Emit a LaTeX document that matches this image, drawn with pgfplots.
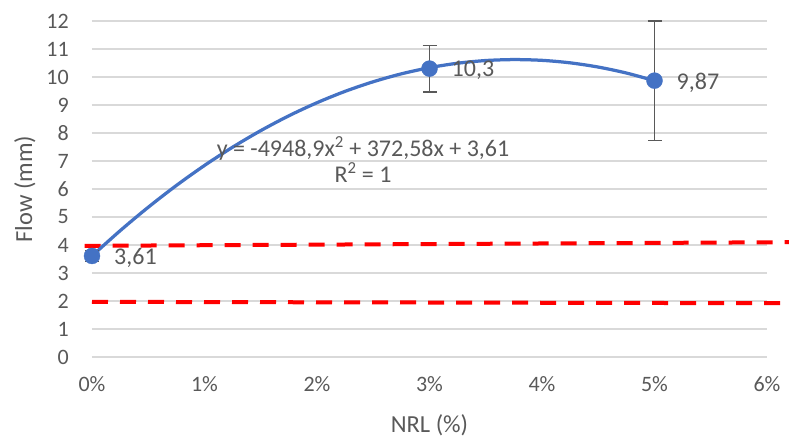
\documentclass[border=0pt]{standalone}
\usepackage{pgfplots}
\pgfplotsset{compat=1.18}
\usepackage{fontspec}
\setmainfont{Carlito}
\definecolor{txt}{HTML}{595959}
\definecolor{grd}{HTML}{D9D9D9}
\definecolor{blu}{HTML}{4472C4}
\definecolor{ebar}{HTML}{595959}
\begin{document}
\begin{tikzpicture}
\path[use as bounding box] (-92pt,-80pt) rectangle (697pt,357pt);
\begin{axis}[
  at={(0,0)}, anchor=south west,
  scale only axis, width=675pt, height=336pt,
  xmin=0, xmax=0.06, ymin=0, ymax=12,
  scaled x ticks=false,
  xtick={0,0.01,0.02,0.03,0.04,0.05,0.06},
  xticklabels={0\%,1\%,2\%,3\%,4\%,5\%,6\%},
  ytick={0,1,2,3,4,5,6,7,8,9,10,11,12},
  axis line style={draw=none}, major tick length=0pt,
  ymajorgrids, grid style={grd, line width=1.5pt},
  tick label style={font=\fontsize{22}{26}\selectfont, text=txt},
  /pgf/number format/assume math mode=true,
  yticklabel style={inner sep=0pt, anchor=east, xshift=-23pt},
  xticklabel style={inner sep=0pt, anchor=north, yshift=-19pt},
  xlabel={NRL (\%)}, ylabel={Flow (mm)},
  label style={font=\fontsize{24.5}{28}\selectfont, text=txt},
  xlabel style={at={(axis description cs:0.5,-0.2024)}, anchor=center},
  ylabel style={at={(axis description cs:-0.0993,0.5)}, anchor=center},
  clip=false,
]
% red limit lines
\addplot[color=red, line width=4pt, dash pattern=on 16pt off 12pt] coordinates {(-0.00065,3.97) (0.062,4.10)};
\addplot[color=red, line width=4pt, dash pattern=on 16pt off 12pt] coordinates {(0,1.97) (0.0616,1.92)};
% polynomial trendline
\addplot[blu, line width=3.25pt, smooth, no marks] coordinates {
(0,3.610) (0.0025,4.510) (0.005,5.349) (0.0075,6.126) (0.01,6.841)
(0.0125,7.494) (0.015,8.085) (0.0175,8.615) (0.02,9.082) (0.0225,9.488)
(0.025,9.831) (0.0275,10.113) (0.03,10.333) (0.0325,10.492) (0.035,10.588)
(0.0375,10.622) (0.04,10.595) (0.0425,10.506) (0.045,10.355) (0.0475,10.142)
(0.05,9.867)};
% data points
\addplot[only marks, mark=*, mark size=8pt, color=blu,
  error bars/.cd, y dir=both, y explicit,
  error bar style={ebar, line width=1.5pt},
  error mark options={rotate=90, mark size=7pt, ebar, line width=1.5pt},
  ] coordinates {
  (0,3.61) +- (0,0.2)
  (0.03,10.3) +- (0,0.83)
  (0.05,9.87) +- (0,2.13)
};
\addplot[only marks, mark=none, nodes near coords, point meta=explicit symbolic,
  every node near coord/.append style={anchor=west, inner sep=0pt, xshift=22pt, yshift=-2pt,
    font=\fontsize{24}{28}\selectfont, text=txt}]
  coordinates {(0,3.61) [3,61] (0.03,10.3) [10,3] (0.05,9.87) [9,87]};
\node[font=\fontsize{24}{28}\selectfont, text=txt] at (axis cs:0.02409,7.46) {y = -4948,9x\textsuperscript{2} + 372,58x + 3,61};
\node[font=\fontsize{24}{28}\selectfont, text=txt] at (axis cs:0.02409,6.58) {R\textsuperscript{2} = 1};
\end{axis}
\end{tikzpicture}
\end{document}
